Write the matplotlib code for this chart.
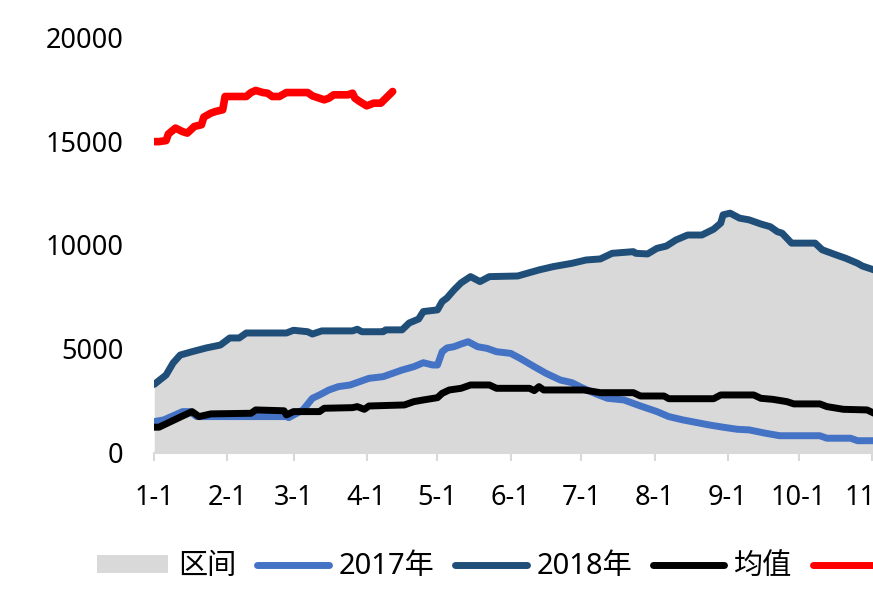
import numpy as np
import pandas as pd
import matplotlib
matplotlib.use('Agg')
import matplotlib.pyplot as plt
from matplotlib.patches import Patch
from matplotlib.lines import Line2D

plt.rcParams['font.family'] = ['Noto Sans', 'Noto Sans CJK SC', 'DejaVu Sans']

# 2018年 (upper edge of the range band as well)
d2018 = ['1-1', '1-6', '1-9', '1-12', '1-17', '1-23', '1-29', '2-2', '2-6', '2-9',
         '2-26', '3-1', '3-7', '3-9', '3-13', '3-26', '3-28', '3-30', '4-8', '4-9',
         '4-16', '4-19', '4-23', '4-25', '5-1', '5-3', '5-5', '5-8', '5-11', '5-15',
         '5-19', '5-23', '6-4', '6-8', '6-13', '6-19', '6-27', '7-3', '7-9', '7-14',
         '7-23', '7-24', '7-29', '8-2', '8-6', '8-10', '8-15', '8-21', '8-26', '8-29',
         '8-30', '9-2', '9-6', '9-10', '9-15', '9-19', '9-22', '9-24', '9-28', '10-8',
         '10-11', '10-17', '10-21', '10-26', '10-28', '11-2', '11-6']
v2018 = [3300, 3750, 4330, 4710, 4870, 5050, 5190, 5530, 5530, 5770,
         5770, 5900, 5830, 5720, 5870, 5870, 5950, 5830, 5830, 5920,
         5920, 6250, 6440, 6800, 6880, 7280, 7450, 7840, 8180, 8480,
         8240, 8480, 8510, 8640, 8800, 8960, 9120, 9280, 9330, 9600,
         9680, 9600, 9570, 9840, 9950, 10240, 10480, 10480, 10760, 11050,
         11450, 11530, 11290, 11210, 11010, 10880, 10640, 10570, 10090, 10090,
         9770, 9520, 9360, 9120, 8990, 8800, 8650]

# 2017年
d2017 = ['1-1', '1-5', '1-13', '1-16', '1-19', '2-12', '2-26', '2-27', '3-5', '3-9',
         '3-12', '3-16', '3-20', '3-25', '3-29', '4-2', '4-8', '4-12', '4-16', '4-21',
         '4-25', '4-29', '5-1', '5-3', '5-5', '5-8', '5-11', '5-14', '5-18', '5-22',
         '5-26', '6-1', '6-5', '6-11', '6-16', '6-22', '6-27', '7-1', '7-7', '7-12',
         '7-19', '7-26', '8-2', '8-7', '8-13', '8-19', '8-24', '8-30', '9-5', '9-10',
         '9-17', '9-23', '10-10', '10-13', '10-23', '10-26', '11-2', '11-6']
v2017 = [1510, 1590, 1990, 1990, 1750, 1750, 1750, 1700, 2070, 2630,
         2790, 3030, 3190, 3270, 3430, 3590, 3670, 3830, 3990, 4150,
         4340, 4230, 4230, 4870, 5050, 5110, 5240, 5350, 5110, 5030,
         4870, 4790, 4550, 4150, 3830, 3510, 3380, 3150, 2850, 2630,
         2550, 2260, 1990, 1750, 1590, 1460, 1350, 1240, 1140, 1110,
         950, 830, 830, 710, 710, 590, 590, 590]

# 均值
d_avg = ['1-1', '1-3', '1-8', '1-13', '1-17', '1-20', '1-25', '2-11', '2-13', '2-25',
         '2-26', '3-1', '3-12', '3-14', '3-26', '3-28', '3-31', '4-2', '4-17', '4-21',
         '4-25', '5-1', '5-3', '5-6', '5-11', '5-15', '5-23', '5-26', '6-9', '6-11',
         '6-13', '6-15', '7-2', '7-9', '7-23', '7-26', '8-5', '8-7', '8-26', '8-29',
         '9-12', '9-15', '9-20', '9-26', '9-29', '10-10', '10-13', '10-20', '10-30', '11-2',
         '11-6']
v_avg = [1240, 1240, 1510, 1780, 1990, 1750, 1880, 1910, 2070, 2030,
         1830, 1990, 1990, 2150, 2180, 2230, 2100, 2260, 2310, 2470,
         2550, 2660, 2870, 3030, 3110, 3270, 3270, 3110, 3110, 3000,
         3190, 3030, 3030, 2900, 2900, 2740, 2740, 2610, 2610, 2790,
         2790, 2630, 2580, 2470, 2360, 2360, 2230, 2100, 2070, 1910,
         1900]

# 2019年
d2019 = ['1-1', '1-3', '1-6', '1-7', '1-10', '1-13', '1-15', '1-18', '1-21', '1-22',
         '1-25', '1-27', '1-30', '1-31', '2-9', '2-11', '2-13', '2-16', '2-18', '2-20',
         '2-23', '2-26', '3-7', '3-9', '3-14', '3-16', '3-18', '3-24', '3-26', '3-27',
         '3-29', '4-1', '4-4', '4-7', '4-12']
v2019 = [14970, 14970, 15020, 15340, 15620, 15450, 15380, 15700, 15780, 16150,
         16340, 16420, 16500, 17140, 17140, 17330, 17430, 17330, 17300, 17140,
         17140, 17330, 17330, 17170, 16980, 17060, 17220, 17220, 17300, 17060,
         16900, 16690, 16820, 16820, 17380]

tick_labels = ['1-1', '2-1', '3-1', '4-1', '5-1', '6-1', '7-1', '8-1', '9-1',
               '10-1', '11-1', '12-1']


def doy(dates):
    return np.array([pd.Timestamp('2019-' + s).dayofyear - 1 for s in dates])


fig = plt.figure(figsize=(8.73, 5.93), dpi=100)
# axis runs past the right edge of the picture (the reference is cropped)
ax = fig.add_axes([0.1767, 0.2361, 0.9868, 0.7015])

x18 = doy(d2018)
ax.fill_between(x18, 0, v2018, color='#d9d9d9', lw=0, zorder=1)
kw = dict(solid_joinstyle='round', solid_capstyle='round')
ax.plot(doy(d2017), v2017, color='#4472c4', lw=5, zorder=3, **kw)
ax.plot(x18, v2018, color='#1f4e79', lw=5, zorder=3, **kw)
ax.plot(doy(d_avg), v_avg, color='black', lw=5, zorder=4, **kw)
ax.plot(doy(d2019), v2019, color='#ff0000', lw=5.5, zorder=5, **kw)

ax.set_xlim(0, 365)
ax.set_ylim(0, 20000)
ax.set_yticks([0, 5000, 10000, 15000, 20000])
ax.set_xticks(doy(tick_labels))
ax.set_xticklabels(tick_labels)
ax.tick_params(axis='y', length=0, pad=22, labelsize=19.5)
ax.tick_params(axis='x', length=5.5, width=1.5, color='#d9d9d9', pad=17, labelsize=19.5)
for s in ['left', 'right', 'top']:
    ax.spines[s].set_visible(False)
ax.spines['bottom'].set_color('#d9d9d9')
ax.spines['bottom'].set_linewidth(1.5)
ax.patch.set_alpha(0)

handles = [Patch(facecolor='#d9d9d9', edgecolor='none'),
           Line2D([], [], color='#4472c4', lw=5, solid_capstyle='round'),
           Line2D([], [], color='#1f4e79', lw=5, solid_capstyle='round'),
           Line2D([], [], color='black', lw=5, solid_capstyle='round'),
           Line2D([], [], color='#ff0000', lw=5, solid_capstyle='round')]
labels = ['区间', '2017年', '2018年', '均值', '2019年']
fig.legend(handles, labels, loc='center left', bbox_to_anchor=(0.111, 0.044),
           ncol=5, frameon=False, fontsize=21, handlelength=2.45,
           handleheight=0.6, handletextpad=0.33, columnspacing=0.72,
           borderpad=0, borderaxespad=0)

fig.savefig('out.png', dpi=100)
